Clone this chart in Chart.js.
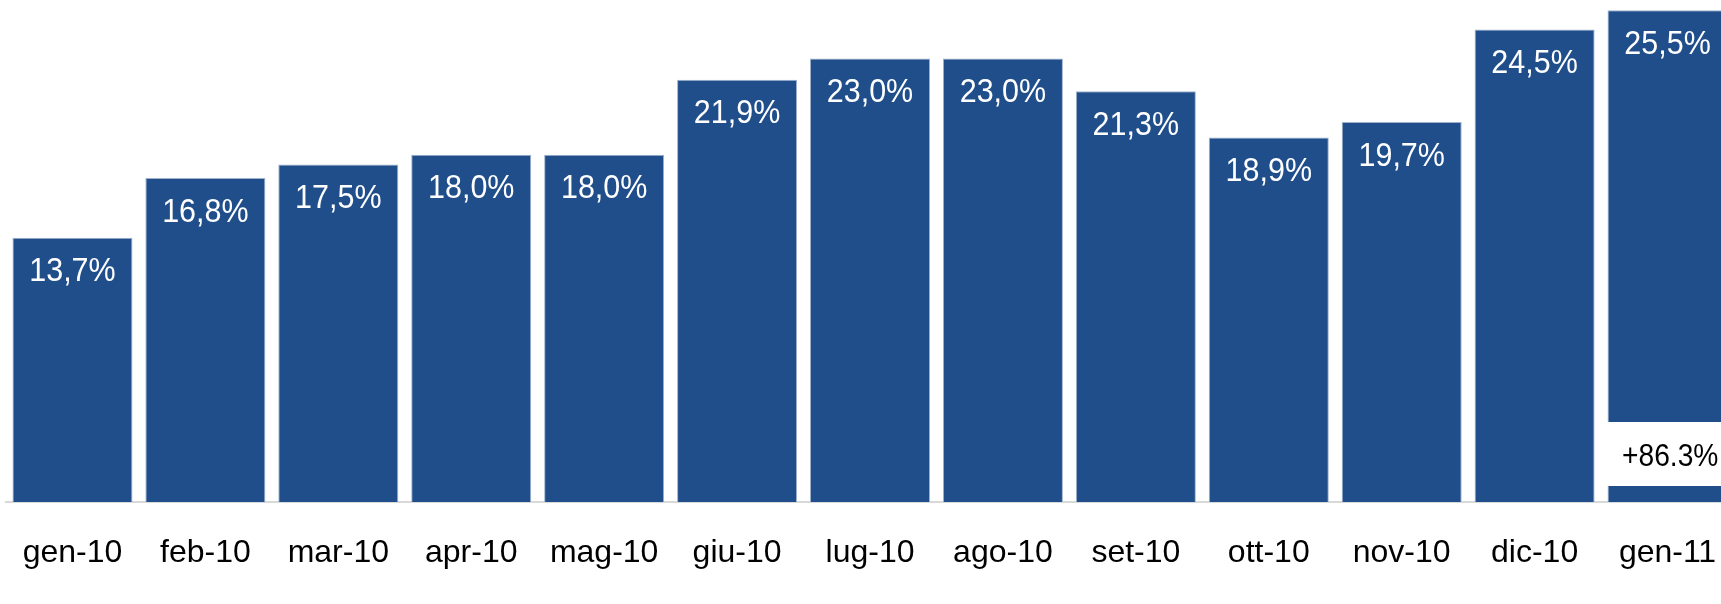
<!DOCTYPE html>
<html>
<head>
<meta charset="utf-8">
<script src="https://cdn.jsdelivr.net/npm/chart.js@4"></script>
<style>
  html, body { margin: 0; padding: 0; background: #ffffff; overflow: hidden; }
  #wrap { position: relative; width: 1721px; height: 604px; }
</style>
</head>
<body>
<div id="wrap"><canvas id="c"></canvas></div>
<script>
// Data
const categories = ["gen-10", "feb-10", "mar-10", "apr-10", "mag-10", "giu-10", "lug-10", "ago-10", "set-10", "ott-10", "nov-10", "dic-10", "gen-11"];
const shareValues = [13.7, 16.8, 17.5, 18.0, 18.0, 21.9, 23.0, 23.0, 21.3, 18.9, 19.7, 24.5, 25.5];
const growthNote = "+86.3%";

const FONT = "'Liberation Sans', Arial, Helvetica, sans-serif";
const BAR_COLOR = "#1F4E8B";
const PLOT_LEFT = 6;
const RIGHT_OVERSHOOT = 13; // the last bar is cut by the right edge in the original

function fmtIt(v) { return v.toFixed(1).replace(".", ",") + "%"; }

function stretchedText(ctx, text, x, y, sy) {
  ctx.save();
  ctx.translate(x, y);
  ctx.scale(1, sy);
  ctx.fillText(text, 0, 0);
  ctx.restore();
}

// Fix the horizontal extent of the plot area (it runs a little past the right edge)
const extendPlugin = {
  id: "extendX",
  afterLayout(chart) {
    const xs = chart.scales.x;
    xs.left = PLOT_LEFT;
    xs.right = chart.width + RIGHT_OVERSHOOT;
    xs.width = xs.right - xs.left;
    xs.configure();
    chart.chartArea.left = xs.left;
    chart.chartArea.right = xs.right;
    chart.chartArea.width = xs.right - xs.left;
  }
};

const labelPlugin = {
  id: "barLabels",
  afterDatasetsDraw(chart) {
    const ctx = chart.ctx;
    const meta = chart.getDatasetMeta(0);
    ctx.save();
    ctx.font = "30.5px " + FONT;
    ctx.fillStyle = "#ffffff";
    ctx.textAlign = "center";
    ctx.textBaseline = "alphabetic";
    meta.data.forEach((bar, i) => {
      stretchedText(ctx, fmtIt(shareValues[i]), bar.x, bar.y + 43.5, 1.08);
    });
    // growth note box on the last bar
    const last = meta.data[meta.data.length - 1];
    const left = last.x - last.width / 2;
    const top = last.base - 80;
    const bottom = last.base - 16;
    ctx.fillStyle = "#ffffff";
    ctx.fillRect(left - 1, top, chart.width - left + 2, bottom - top);
    ctx.fillStyle = "#000000";
    ctx.font = "28.2px " + FONT;
    ctx.textAlign = "left";
    ctx.textBaseline = "alphabetic";
    stretchedText(ctx, growthNote, left + 14.5, last.base - 36, 1.08);
    ctx.restore();
  }
};

new Chart(document.getElementById("c"), {
  type: "bar",
  data: {
    labels: categories,
    datasets: [{
      data: shareValues,
      backgroundColor: BAR_COLOR,
      borderColor: "#9fb2cd",
      borderWidth: { top: 1, left: 1, right: 1, bottom: 0 },
      borderSkipped: "bottom",
      barPercentage: 0.903,
      categoryPercentage: 1.0
    }]
  },
  options: {
    responsive: true,
    maintainAspectRatio: false,
    animation: false,
    layout: { padding: { left: PLOT_LEFT, right: 0, top: 0, bottom: 0 } },
    plugins: { legend: { display: false }, tooltip: { enabled: false }, title: { display: false } },
    scales: {
      x: {
        grid: { display: false, drawTicks: false },
        border: { display: true, color: "#d9d9d9", width: 2 },
        ticks: { color: "#000000", font: { family: FONT, size: 32, lineHeight: 1.0 }, padding: 35, maxRotation: 0, autoSkip: false }
      },
      y: {
        display: false,
        min: 0,
        max: 26.03
      }
    }
  },
  plugins: [extendPlugin, labelPlugin]
});
</script>
</body>
</html>
